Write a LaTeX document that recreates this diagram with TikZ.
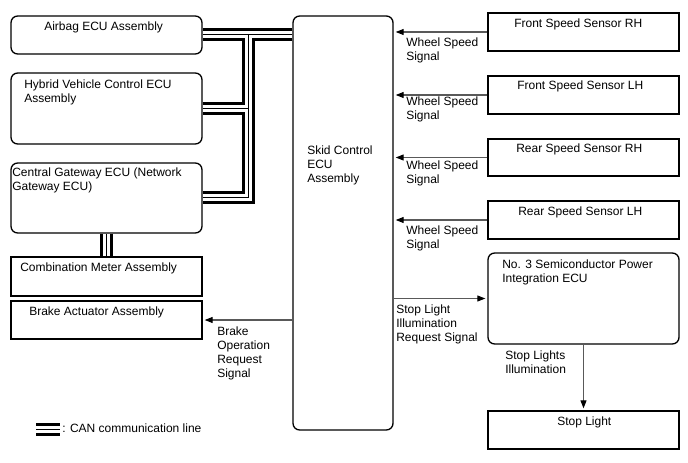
\documentclass[tikz,border=0pt]{standalone}
\usepackage{fontspec}
\setmainfont{Liberation Sans}
\usetikzlibrary{arrows.meta,fit}
\begin{document}
\begin{tikzpicture}[x=0.75pt,y=-0.75pt,
 box/.style={draw=black,line width=1pt,inner sep=0pt},
 rbox/.style={box,rounded corners=5pt},
 txt/.style={inner sep=0pt,anchor=north west,align=left,font=\fontsize{9}{10.5}\selectfont},
 sig/.style={draw=black!65,line width=0.8pt,shorten >=1.5pt,-{Triangle[length=6pt,width=4.5pt,color=black]}},
 canout/.style={line width=9.75pt,black},
 canmid/.style={line width=5.25pt,white},
 canin/.style={line width=0.75pt,black}]
\useasboundingbox (0,0) rectangle (688,463);
% boxes
\node[rbox,fit={(11,16) (202,54)}] (airbag) {};
\node[rbox,fit={(11,73) (202,144)}] (hyb) {};
\node[rbox,fit={(11,163) (202,233)}] (gw) {};
\node[box,fit={(11,257) (202,296)}] (cm) {};
\node[box,fit={(11,301) (202,339)}] (brake) {};
\node[rbox,fit={(293,16) (393,430)}] (skid) {};
\node[box,fit={(488,13) (679,51)}] (frh) {};
\node[box,fit={(488,76) (679,114)}] (flh) {};
\node[box,fit={(488,139) (679,176)}] (rrh) {};
\node[box,fit={(488,201) (679,239)}] (rlh) {};
\node[rbox,fit={(488,253) (679,344)}] (no3) {};
\node[box,fit={(488,411) (679,449)}] (stop) {};
% texts
\node[txt] (tair) at (44,22) {Airbag ECU Assembly};
\node[txt] (thyb) at (24,80) {Hybrid Vehicle Control ECU\\Assembly};
\node[txt] (tgw) at (12,168) {Central Gateway ECU (Network\\Gateway ECU)};
\node[txt] (tcm) at (20,263) {Combination Meter Assembly};
\node[txt] (tbrake) at (29,307) {Brake Actuator Assembly};
\node[txt] (tskid) at (307,146) {Skid Control\\ECU\\Assembly};
\node[txt] (tfrh) at (514,19) {Front Speed Sensor RH};
\node[txt] (tflh) at (517,81) {Front Speed Sensor LH};
\node[txt] (trrh) at (516,144) {Rear Speed Sensor RH};
\node[txt] (trlh) at (518,207) {Rear Speed Sensor LH};
\node[txt] (tno3) at (502,260) {No. 3 Semiconductor Power\\Integration ECU};
\node[txt] (tstop) at (557,417) {Stop Light};
\node[txt] (w1) at (406,38) {Wheel Speed\\Signal};
\node[txt] (w2) at (406,97) {Wheel Speed\\Signal};
\node[txt] (w3) at (406,161) {Wheel Speed\\Signal};
\node[txt] (w4) at (406,226) {Wheel Speed\\Signal};
\node[txt] (lreq) at (396,305) {Stop Light\\Illumination\\Request Signal};
\node[txt] (lill) at (505,351) {Stop Lights\\Illumination};
\node[txt] (lbrk) at (217,327) {Brake\\Operation\\Request\\Signal};
\node[txt] (lleg) at (62,424) {: CAN communication line};
% signal arrows
\draw[sig] (frh.west) -- (frh.west -| skid.east);
\draw[sig] (flh.west) -- (flh.west -| skid.east);
\draw[sig] (rrh.west) -- (rrh.west -| skid.east);
\draw[sig] (rlh.west) -- (rlh.west -| skid.east);
\draw[sig] (skid.east |- no3.west) -- (no3.west);
\draw[sig] (no3.south) -- (stop.north);
\draw[sig] (skid.west |- brake.east) -- (brake.east);
% CAN bus
\coordinate (trunk) at (248,0);
\coordinate (legA) at (36,429);
\coordinate (legB) at (60,429);
\newcommand\canpath{(skid.west |- airbag.east) -- (airbag.east)
  (trunk |- airbag.east) -- (trunk |- gw.east) -- (gw.east)
  (hyb.east) -- (trunk |- hyb.east)
  (gw.south) -- (cm.north)
  (legA) -- (legB)}
\draw[canout] \canpath;
\draw[canmid] \canpath;
\draw[canin] \canpath;
\end{tikzpicture}
\end{document}
